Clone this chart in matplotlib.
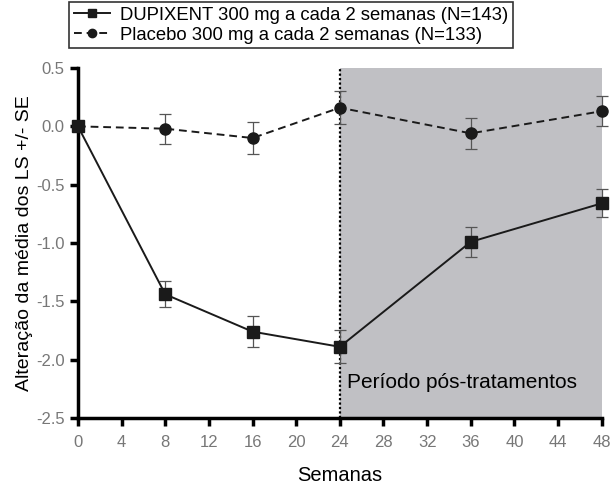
import matplotlib.pyplot as plt
from matplotlib.ticker import FormatStrFormatter

plt.rcParams['font.family'] = ['Liberation Sans', 'DejaVu Sans']

weeks = [0, 8, 16, 24, 36, 48]
dupixent = [0.0, -1.44, -1.76, -1.89, -0.99, -0.66]
dupixent_se = [0.0, 0.11, 0.13, 0.14, 0.13, 0.12]
placebo = [0.0, -0.02, -0.10, 0.16, -0.06, 0.13]
placebo_se = [0.0, 0.13, 0.14, 0.14, 0.135, 0.13]

x_ticks = list(range(0, 49, 4))
y_ticks = [0.5, 0.0, -0.5, -1.0, -1.5, -2.0, -2.5]

fig = plt.figure(figsize=(6.14, 4.86), dpi=100)
ax = fig.add_axes([0.127, 0.14, 0.853, 0.72])

# periodo pos-tratamento
ax.axvspan(24, 48, color='#c0c0c4', lw=0, zorder=0)
ax.axvline(24, color='black', ls=(0, (1, 1)), lw=1.6, zorder=1)

ax.errorbar(weeks, dupixent, yerr=dupixent_se, fmt='none', ecolor='#555555',
            elinewidth=0.9, capsize=4, capthick=0.9, zorder=2, clip_on=False)
ax.errorbar(weeks, placebo, yerr=placebo_se, fmt='none', ecolor='#555555',
            elinewidth=0.9, capsize=4, capthick=0.9, zorder=2, clip_on=False)

ax.plot(weeks, dupixent, '-s', color='#1a1a1a', lw=1.4, ms=8, zorder=3,
        clip_on=False, label='DUPIXENT 300 mg a cada 2 semanas (N=143)')
ax.plot(weeks, placebo, '--o', color='#1a1a1a', lw=1.4, ms=8, zorder=3,
        clip_on=False, dashes=(4, 2.5),
        label='Placebo 300 mg a cada 2 semanas (N=133)')

ax.text(24.7, -2.2, 'Período pós-tratamentos', fontsize=15, va='center', ha='left')

ax.set_xlim(0, 48)
ax.set_ylim(-2.5, 0.5)
ax.set_xticks(x_ticks)
ax.set_yticks(y_ticks)
ax.yaxis.set_major_formatter(FormatStrFormatter('%.1f'))

for side in ['top', 'right']:
    ax.spines[side].set_visible(False)
for side in ['left', 'bottom']:
    ax.spines[side].set_linewidth(2.5)
ax.tick_params(width=2.5, length=6, labelsize=12, labelcolor='#777777')
ax.tick_params(axis='x', pad=6)

ax.set_xlabel('Semanas', fontsize=14.5, labelpad=12)
ax.set_ylabel('Alteração da média dos LS +/- SE', fontsize=14, labelpad=2)

leg = ax.legend(loc='lower left', bbox_to_anchor=(-0.035, 1.03), fontsize=13.3,
                frameon=True, fancybox=False, edgecolor='black', handlelength=2,
                borderpad=0.25, labelspacing=0.15, handletextpad=0.5, markerscale=0.75)
leg.get_frame().set_linewidth(1.2)

fig.savefig('out.png', dpi=100)
